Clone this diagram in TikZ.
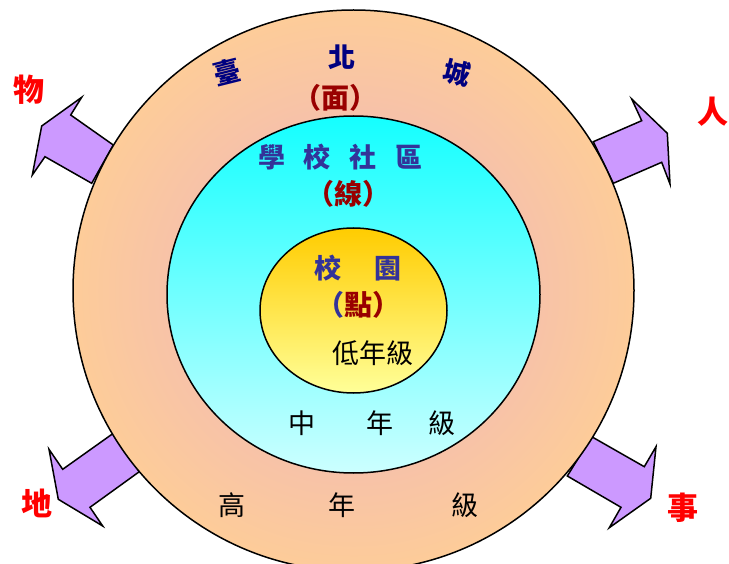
\documentclass[tikz,border=0pt]{standalone}
\usepackage{fontspec}
\newfontfamily\cjk{Noto Sans CJK TC}
\usetikzlibrary{positioning}

\definecolor{peach}{RGB}{253,204,153}
\definecolor{rosy}{RGB}{236,176,196}
\definecolor{cyantop}{RGB}{20,255,255}
\definecolor{cyanbot}{RGB}{204,255,255}
\definecolor{gold}{RGB}{255,204,0}
\definecolor{paleyellow}{RGB}{255,255,153}
\definecolor{lilac}{RGB}{204,153,255}
\definecolor{navyblue}{RGB}{0,0,128}
\definecolor{slateblue}{RGB}{51,51,153}
\definecolor{darkred}{RGB}{153,0,0}

\tikzset{
  ring/.style={draw=black, line width=1.5pt},
  bigarrow/.style={draw=black, fill=lilac, line width=1.5pt, line join=miter},
  corner/.style={inner sep=0pt, text=red, font=\cjk\bfseries\fontsize{31}{31}\selectfont},
  city/.style={inner sep=0pt, text=navyblue, font=\cjk\bfseries\fontsize{27}{27}\selectfont},
  place/.style={inner sep=0pt, text=slateblue, font=\cjk\bfseries\fontsize{27}{27}\selectfont},
  paren/.style={inner sep=0pt, text=darkred, font=\cjk\bfseries\fontsize{28}{28}\selectfont},
  grade/.style={inner sep=0pt, text=black, font=\cjk\fontsize{27}{27}\selectfont}
}

\begin{document}
\begin{tikzpicture}[x=1pt, y=-1pt, on grid]
  \useasboundingbox (0,0) rectangle (729,564);
  \clip (0,0) rectangle (729,564);

  \draw[bigarrow] (81.7,97.3) -- (70.7,115) -- (113.3,145) -- (91.7,183.3)
    -- (45,156.7) -- (32.3,175) -- (41.7,126) -- cycle;
  \draw[bigarrow] (593.3,141.7) -- (641.7,120.7) -- (631.7,99) -- (667.3,133.3)
    -- (670,184) -- (661.7,162.3) -- (613.3,183.3) -- cycle;
  \draw[bigarrow] (113.3,433.3) -- (139.3,471.7) -- (90,507.3) -- (102.7,526)
    -- (58.3,499.3) -- (49,449.3) -- (62.7,469.3) -- cycle;
  \draw[bigarrow] (591.7,436.7) -- (644.3,466.7) -- (656,446.7) -- (650.7,498.3)
    -- (609.3,527.7) -- (621,507.3) -- (567.3,476) -- cycle;

  \draw[ring, inner color=rosy, outer color=peach] (353.5,290.5) circle [radius=280.5pt];
  \draw[ring, top color=cyantop, bottom color=cyanbot] (353.5,294.5) ellipse [x radius=186.5pt, y radius=178.5pt];
  \draw[ring, top color=gold, bottom color=paleyellow] (353.5,310.5) ellipse [x radius=93.5pt, y radius=82.5pt];

  \node[corner] (wu) at (29,90) {物};
  \node[corner] (ren) at (713,112) {人};
  \node[corner] (di) at (37,503) {地};
  \node[corner] (shi) at (683,508) {事};

  \node[city, rotate=14] (tai) at (227,72) {臺};
  \node[city] (bei) at (342,57) {北};
  \node[city, rotate=-14] (cheng) at (457,73) {城};
  \node[paren, below left=41pt and 7pt of bei] (mian) {（面）};

  \node[place] (school) at (340.5,157) {學\hspace{19pt}校\hspace{19pt}社\hspace{19pt}區};
  \node[paren, below right=37pt and 7.5pt of school] (xian) {（線）};

  \node[place] (campus) at (358,268) {校\hspace{33pt}園};
  \node[paren, below=37pt of campus] (dian) {{\color{slateblue}（}點）};

  \node[grade] (low) at (373,353) {低年級};
  \node[grade] (mid) at (372,423) {中\hspace{51pt}年\hspace{35pt}級};
  \node[grade] (high) at (348.5,505) {高\hspace{83pt}年\hspace{96pt}級};
\end{tikzpicture}
\end{document}
